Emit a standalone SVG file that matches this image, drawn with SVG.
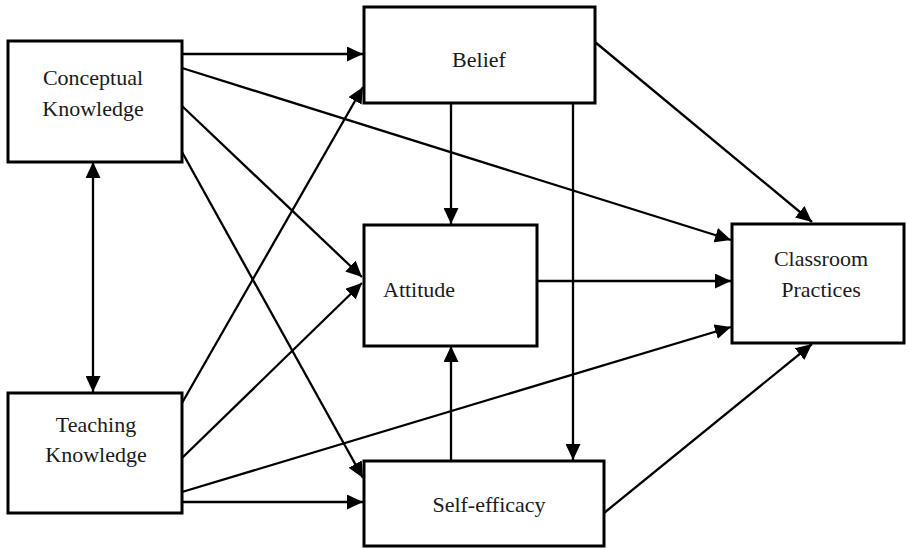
<svg xmlns="http://www.w3.org/2000/svg" width="908" height="548" viewBox="0 0 908 548">
<style>
.box{fill:#fff;stroke:#000;stroke-width:3}
.lbl{font-family:"Liberation Serif","Times New Roman",serif;font-size:22px;fill:#1a1a1a}
.c{fill:none;stroke:#000;stroke-width:2.3;marker-end:url(#ah)}
</style>
<defs>
<marker id="ah" markerUnits="userSpaceOnUse" markerWidth="16" markerHeight="15" refX="16" refY="7.5" orient="auto-start-reverse">
<path d="M0,0 L16,7.5 L0,15 z" fill="#000"/>
</marker>
</defs>
<rect width="908" height="548" fill="#fff"/>
<g id="connectors">
<line class="c" x1="182" y1="54" x2="363" y2="54"/>
<line class="c" x1="182" y1="68" x2="731" y2="240"/>
<line class="c" x1="182" y1="106" x2="362" y2="277"/>
<line class="c" x1="182" y1="152" x2="363" y2="478"/>
<line class="c" x1="93" y1="162" x2="93" y2="392" style="marker-start:url(#ah)"/>
<line class="c" x1="182" y1="403" x2="363" y2="87"/>
<line class="c" x1="182" y1="458" x2="362" y2="283"/>
<line class="c" x1="182" y1="492" x2="731" y2="327"/>
<line class="c" x1="182" y1="502" x2="363" y2="502"/>
<line class="c" x1="451" y1="103" x2="451" y2="224"/>
<line class="c" x1="573" y1="103" x2="573" y2="460"/>
<line class="c" x1="595" y1="42" x2="812" y2="222"/>
<line class="c" x1="537" y1="281" x2="731" y2="281"/>
<line class="c" x1="451" y1="460" x2="451" y2="346"/>
<line class="c" x1="604" y1="513" x2="812" y2="344"/>
</g>
<g id="conceptual">
<rect class="box" x="8" y="41" width="174" height="121"/>
<text class="lbl" x="93" y="85" text-anchor="middle">Conceptual</text>
<text class="lbl" x="93" y="116" text-anchor="middle">Knowledge</text>
</g>
<g id="belief">
<rect class="box" x="364" y="7" width="231" height="96"/>
<text class="lbl" x="479" y="67" text-anchor="middle">Belief</text>
</g>
<g id="attitude">
<rect class="box" x="364" y="225" width="173" height="121"/>
<text class="lbl" x="383" y="297">Attitude</text>
</g>
<g id="classroom">
<rect class="box" x="732" y="224" width="172" height="119"/>
<text class="lbl" x="821" y="266" text-anchor="middle">Classroom</text>
<text class="lbl" x="821" y="297" text-anchor="middle">Practices</text>
</g>
<g id="teaching">
<rect class="box" x="8" y="393" width="174" height="120"/>
<text class="lbl" x="96" y="432" text-anchor="middle">Teaching</text>
<text class="lbl" x="96" y="462" text-anchor="middle">Knowledge</text>
</g>
<g id="selfefficacy">
<rect class="box" x="364" y="461" width="240" height="85"/>
<text class="lbl" x="489" y="512" text-anchor="middle">Self-efficacy</text>
</g>
</svg>
